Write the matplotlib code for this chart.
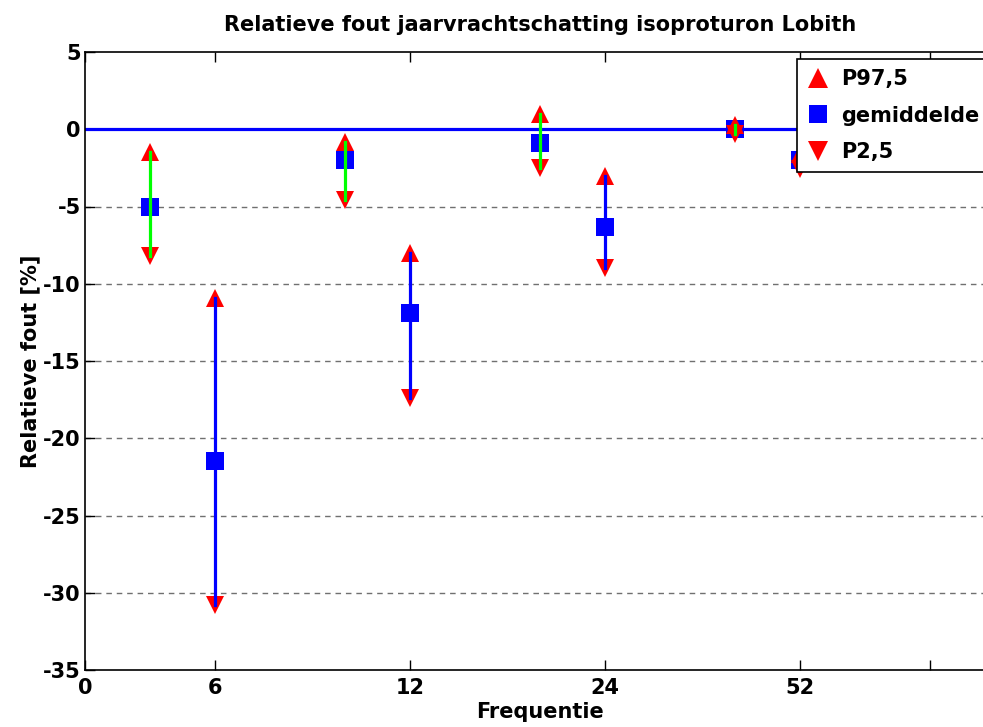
import matplotlib
matplotlib.use('Agg')
import matplotlib.pyplot as plt
from matplotlib.lines import Line2D

plt.rcParams['font.family'] = ['DejaVu Sans']
plt.rcParams['font.weight'] = 'bold'
plt.rcParams['axes.unicode_minus'] = False

# posities op de x-as (per frequentie een paar) en de waarden in %
x_pos = [1, 2, 4, 5, 7, 8, 10, 11]
gemiddelde = [-5.0, -21.5, -2.0, -11.9, -0.9, -6.3, 0.0, -2.0]
p97_5 = [-1.5, -10.9, -0.8, -8.0, 1.0, -3.0, 0.3, -1.6]
p2_5 = [-8.2, -30.8, -4.6, -17.4, -2.5, -9.0, -0.3, -2.6]
lijnkleur = ['#00ff00', 'blue', '#00ff00', 'blue', '#00ff00', 'blue', '#00ff00', 'blue']

xtick_pos = [0, 2, 5, 8, 11, 13]
xtick_labels = ['0', '6', '12', '24', '52', '']
yticks = [5, 0, -5, -10, -15, -20, -25, -30, -35]

fig = plt.figure(figsize=(9.83, 7.27), dpi=100)
ax = fig.add_axes([85 / 983, 57 / 727, 910 / 983, 618 / 727])

# gestippelde hulplijnen
for y in yticks[2:-1]:
    ax.axhline(y, color='#707070', linestyle=(0, (4, 3.5)), linewidth=1.0, zorder=1)

ax.axhline(0, color='blue', linewidth=2.3, zorder=2)

ax.plot(x_pos, gemiddelde, 's', color='blue', markersize=13, markeredgewidth=0, zorder=3)
ax.plot(x_pos, p97_5, '^', color='red', markersize=13, markeredgewidth=0, zorder=4)
ax.plot(x_pos, p2_5, 'v', color='red', markersize=13, markeredgewidth=0, zorder=4)
for xi, lo, hi, c in zip(x_pos, p2_5, p97_5, lijnkleur):
    ax.plot([xi, xi], [lo, hi], color=c, linewidth=2.3, zorder=5)

ax.set_xlim(0, 14)
ax.set_ylim(-35, 5)
ax.set_xticks(xtick_pos)
ax.set_xticklabels(xtick_labels)
ax.set_yticks(yticks)
ax.tick_params(direction='in', length=7, width=1, top=True, right=True, labelsize=15)
ax.tick_params(axis='x', pad=6)
ax.tick_params(axis='y', pad=3)
for s in ax.spines.values():
    s.set_linewidth(1.2)

ax.set_title('Relatieve fout jaarvrachtschatting isoproturon Lobith', fontsize=15, fontweight='bold', pad=15)
ax.set_xlabel('Frequentie', fontsize=15, fontweight='bold', labelpad=3)
ax.set_ylabel('Relatieve fout [%]', fontsize=15, fontweight='bold', labelpad=2)

handles = [
    Line2D([], [], marker='^', color='red', linestyle='none', markersize=14, markeredgewidth=0),
    Line2D([], [], marker='s', color='blue', linestyle='none', markersize=13, markeredgewidth=0),
    Line2D([], [], marker='v', color='red', linestyle='none', markersize=14, markeredgewidth=0),
]
leg = ax.legend(handles, ['P97,5', 'gemiddelde', 'P2,5'], loc='upper left',
                bbox_to_anchor=(797 / 983, 1 - 59 / 727), bbox_transform=fig.transFigure,
                fontsize=15, frameon=True, fancybox=False, framealpha=1,
                handlelength=1.0, handletextpad=0.6, borderpad=0.5, labelspacing=0.78,
                borderaxespad=0)
leg.get_frame().set_edgecolor('black')
leg.get_frame().set_linewidth(1.2)
leg.set_zorder(10)
for t in leg.get_texts():
    t.set_fontweight('bold')

fig.savefig('out.png', dpi=100)
